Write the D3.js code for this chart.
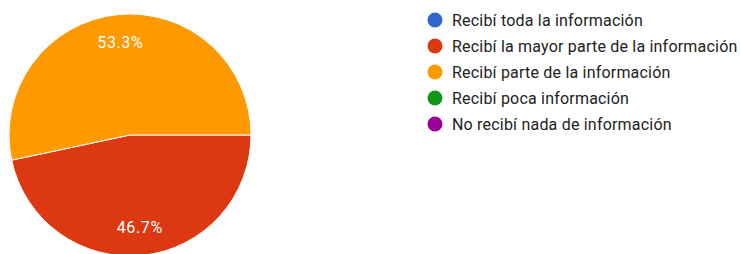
<!DOCTYPE html>
<html>
<head>
<meta charset="utf-8">
<script src="https://cdn.jsdelivr.net/npm/d3@7"></script>
<style>
  body { margin: 0; background: #fff; }
  svg { display: block; font-family: Roboto, Arial, sans-serif; }
</style>
</head>
<body>
<svg width="741" height="254"></svg>
<script>
// respuestas
var categories = [
  "Recibí toda la información",
  "Recibí la mayor parte de la información",
  "Recibí parte de la información",
  "Recibí poca información",
  "No recibí nada de información"
];
var counts = [0, 7, 8, 0, 0];
var colors = ["#3366cc", "#dc3912", "#ff9900", "#109618", "#990099"];

var svg = d3.select("svg");
var cx = 130, cy = 135, r = 121;

var data = categories.map(function(c, i) {
  return {name: c, value: counts[i], color: colors[i]};
});
var total = d3.sum(counts);

// el pie empieza a las 3 en punto
var pie = d3.pie()
  .sort(null)
  .value(function(d) { return d.value; })
  .startAngle(Math.PI / 2)
  .endAngle(Math.PI / 2 + 2 * Math.PI);

var arc = d3.arc().innerRadius(0).outerRadius(r);
var labelArc = d3.arc().innerRadius(r * 0.77).outerRadius(r * 0.77);

var g = svg.append("g").attr("transform", "translate(" + cx + "," + cy + ")");
var arcs = pie(data).filter(function(d) { return d.data.value > 0; });

g.selectAll("path")
  .data(arcs)
  .enter()
  .append("path")
  .attr("d", arc)
  .attr("fill", function(d) { return d.data.color; })
  .attr("stroke", "#fff")
  .attr("stroke-width", 1);

g.selectAll("text")
  .data(arcs)
  .enter()
  .append("text")
  .attr("x", function(d) { return labelArc.centroid(d)[0]; })
  .attr("y", function(d) { return labelArc.centroid(d)[1]; })
  .attr("dy", "0.35em")
  .attr("text-anchor", "middle")
  .attr("fill", "#fff")
  .style("font-size", "16px")
  .style("letter-spacing", "0.6px")
  .text(function(d) { return (d.data.value / total * 100).toFixed(1) + "%"; });

// leyenda
var legendY = d3.scalePoint().domain(categories).range([20, 124]);
var legend = svg.selectAll("g.legend")
  .data(data)
  .enter()
  .append("g")
  .attr("class", "legend")
  .attr("transform", function(d) { return "translate(435," + legendY(d.name) + ")"; });

legend.append("circle")
  .attr("r", 7.5)
  .attr("fill", function(d) { return d.color; });

legend.append("text")
  .attr("x", 17)
  .attr("dy", "0.35em")
  .attr("fill", "#222")
  .style("font-size", "16px")
  .style("letter-spacing", "0.2px")
  .text(function(d) { return d.name; });
</script>
</body>
</html>
